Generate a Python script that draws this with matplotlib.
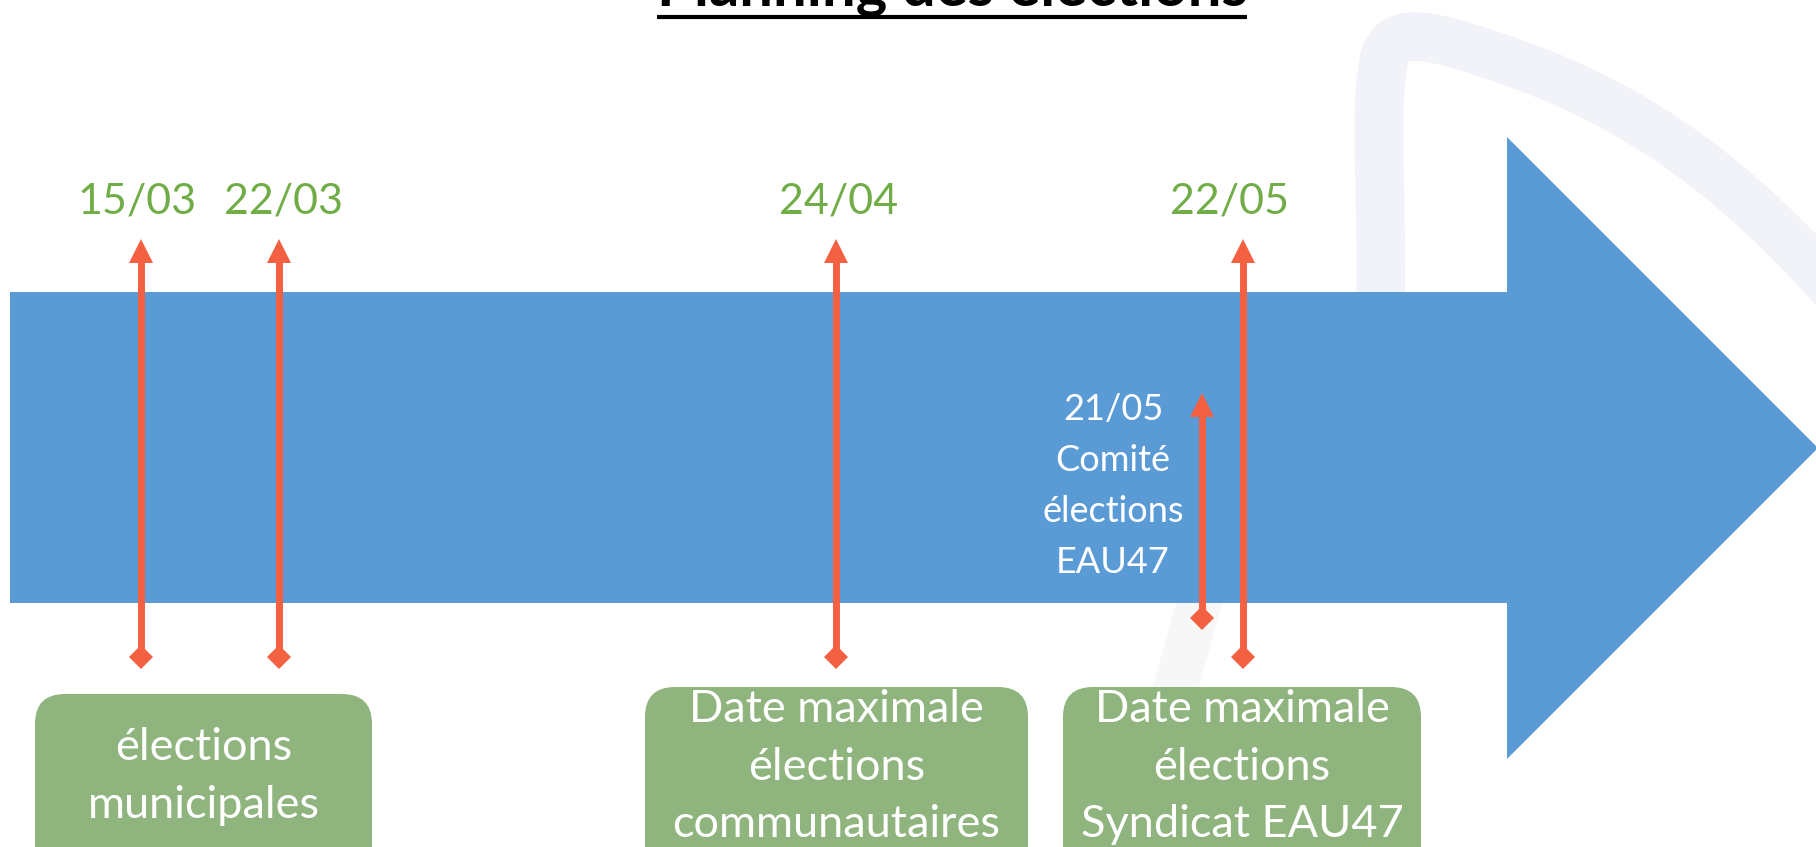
import matplotlib
matplotlib.use('Agg')
import matplotlib.pyplot as plt
from matplotlib.patches import Polygon, FancyBboxPatch, PathPatch
from matplotlib.path import Path

# --- timeline content ---
TITLE = 'Planning des élections'
DATES = ['15/03', '22/03', '24/04', '22/05']
DATE_X = [141, 279, 836, 1243]          # arrow positions
DATE_LABEL_X = [137, 283, 839, 1229]    # label centres
COMITE_LINES = ['21/05', 'Comité', 'élections', 'EAU47']
COMITE_X = 1202
BOX_LINES = [
    ['élections', 'municipales'],
    ['Date maximale', 'élections', 'communautaires'],
    ['Date maximale', 'élections', 'Syndicat EAU47'],
]
BOX_SPAN = [(35, 372), (645, 1028), (1063, 1421)]

BLUE = '#5B9BD5'
ORANGE = '#F46042'
BOX_GREEN = '#8FB47E'
DATE_GREEN = '#70AD47'
FONT = 'Lato'

W, H = 1816, 847
fig = plt.figure(figsize=(W / 100, H / 100), dpi=100)
ax = fig.add_axes([0, 0, 1, 1])
ax.set_xlim(0, W)
ax.set_ylim(H, 0)
ax.axis('off')

# faint watermark swoosh behind everything
swoosh = Path([(1380, 310), (1384, 200), (1372, 110), (1385, 55),
               (1395, 30), (1420, 30), (1500, 58),
               (1600, 92), (1720, 150), (1860, 320)],
              [Path.MOVETO, Path.CURVE4, Path.CURVE4, Path.CURVE4,
               Path.CURVE4, Path.CURVE4, Path.CURVE4,
               Path.CURVE4, Path.CURVE4, Path.CURVE4])
ax.add_patch(PathPatch(swoosh, facecolor='none', edgecolor='#F1F3F9', lw=35,
                       capstyle='round', joinstyle='round', zorder=0))
ax.plot([1200, 1172], [600, 700], color='#F6F7F6', lw=32, solid_capstyle='round', zorder=0)

# big blue arrow
shaft_top, shaft_bot, head_x = 292, 603, 1507
arrow = Polygon([(10, shaft_top), (head_x, shaft_top), (head_x, 137), (1818, 448),
                 (head_x, 759), (head_x, shaft_bot), (10, shaft_bot)],
                closed=True, facecolor=BLUE, edgecolor='none', zorder=1)
ax.add_patch(arrow)


def marker_arrow(x, top, bottom):
    ax.plot([x, x], [top + 20, bottom], color=ORANGE, lw=5, zorder=3, solid_capstyle='butt')
    ax.add_patch(Polygon([(x, top), (x - 12, top + 24), (x + 12, top + 24)],
                         closed=True, facecolor=ORANGE, edgecolor='none', zorder=3))
    ax.add_patch(Polygon([(x, bottom - 12), (x + 12, bottom), (x, bottom + 12), (x - 12, bottom)],
                         closed=True, facecolor=ORANGE, edgecolor='none', zorder=3))


for label, x, lx in zip(DATES, DATE_X, DATE_LABEL_X):
    marker_arrow(x, 239, 657)
    ax.text(lx, 214, label, color=DATE_GREEN, fontsize=31, family=FONT,
            ha='center', va='baseline', zorder=4)

marker_arrow(COMITE_X, 393, 618)
for i, line in enumerate(COMITE_LINES):
    ax.text(1113, 420 + 51 * i, line, color='white', fontsize=26, family=FONT,
            ha='center', va='baseline', zorder=4)

# green rounded boxes
for lines, (x0, x1), top in zip(BOX_LINES, BOX_SPAN, [694, 687, 687]):
    ax.add_patch(FancyBboxPatch((x0, top), x1 - x0, 200,
                                boxstyle='round,pad=0,rounding_size=30',
                                facecolor=BOX_GREEN, edgecolor='none', zorder=2))
    base = 760 if len(lines) == 2 else 722
    for i, line in enumerate(lines):
        ax.text((x0 + x1) / 2, base + 57.5 * i, line, color='white', fontsize=32.5,
                family=FONT, ha='center', va='baseline', zorder=4)

# title, cut by the top edge as in the slide
ax.text(952, 6, TITLE, fontsize=43, fontweight='bold', family=FONT,
        ha='center', va='baseline', color='black', zorder=4)
ax.plot([657, 1247], [17, 17], color='black', lw=3, zorder=4, solid_capstyle='butt')

fig.savefig('out.png', dpi=100, facecolor='white')
